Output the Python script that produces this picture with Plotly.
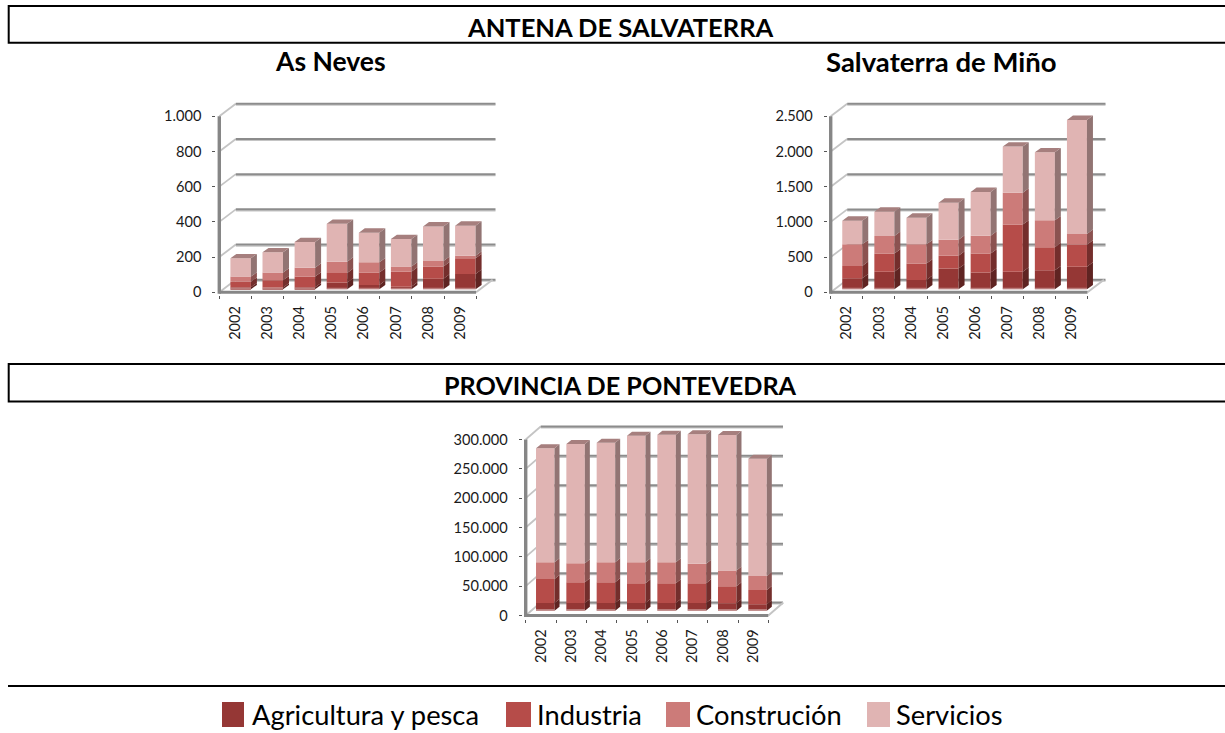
import plotly.graph_objects as go

WIDTH, HEIGHT = 1225, 733
YEARS = ["2002", "2003", "2004", "2005", "2006", "2007", "2008", "2009"]
SERIES = ["Agricultura y pesca", "Industria", "Construción", "Servicios"]
FACE = ["#953735", "#B64C49", "#CC7B79", "#E0B4B3"]
SIDE = ["#5F2422", "#742E2C", "#8B5250", "#927473"]
TOP = "#A67F7E"
GRID = "#8C8C8C"
GRID_LIGHT = "#C4C4C4"
AXIS = "#868686"
FONT = "Lato"
PAD = 3.0

NEVES_AGRI = [11, 10, 11, 38, 25, 15, 60, 87]
NEVES_IND = [32, 41, 61, 55, 70, 85, 70, 89]
NEVES_CON = [29, 44, 51, 64, 58, 29, 31, 15]
NEVES_SER = [104, 115, 145, 215, 168, 156, 196, 170]
NEVES_TICKS = [0, 200, 400, 600, 800, 1000]
NEVES_LABELS = ["0", "200", "400", "600", "800", "1.000"]

SALV_AGRI = [156, 251, 133, 294, 237, 251, 270, 322]
SALV_IND = [175, 256, 232, 184, 270, 668, 327, 312]
SALV_CON = [308, 251, 274, 227, 255, 454, 383, 152]
SALV_SER = [336, 345, 379, 526, 621, 654, 966, 1619]
SALV_TICKS = [0, 500, 1000, 1500, 2000, 2500]
SALV_LABELS = ["0", "500", "1.000", "1.500", "2.000", "2.500"]

PONT_AGRI = [13000, 13000, 13000, 13000, 13000, 13000, 12500, 11000]
PONT_IND = [41000, 35300, 35300, 34000, 34000, 34000, 29000, 24200]
PONT_CON = [28400, 32400, 34100, 35400, 35400, 33000, 27200, 23800]
PONT_SER = [194300, 203300, 204000, 215900, 217600, 220600, 230700, 200000]
PONT_TICKS = [0, 50000, 100000, 150000, 200000, 250000, 300000]
PONT_LABELS = ["0", "50.000", "100.000", "150.000", "200.000", "250.000", "300.000"]

CHARTS = [
    dict(series=[NEVES_AGRI, NEVES_IND, NEVES_CON, NEVES_SER], ticks=NEVES_TICKS, labels=NEVES_LABELS,
         x0=219.3, catw=32.1, y0=292.3, ytop=116.2, backx=16.5, backy=12.5, right=495.5,
         barw=20.5, shift=5.3, lift=3.0, sdx=6, sdy=4.4),
    dict(series=[SALV_AGRI, SALV_IND, SALV_CON, SALV_SER], ticks=SALV_TICKS, labels=SALV_LABELS,
         x0=830.7, catw=32.1, y0=292.3, ytop=116.3, backx=16.5, backy=12.5, right=1105.5,
         barw=20.0, shift=5.5, lift=3.0, sdx=6, sdy=4.4),
    dict(series=[PONT_AGRI, PONT_IND, PONT_CON, PONT_SER], ticks=PONT_TICKS, labels=PONT_LABELS,
         x0=525.7, catw=30.33, y0=615.5, ytop=439.5, backx=15, backy=13, right=783.0,
         barw=18.5, shift=4.4, lift=4.8, sdx=5, sdy=4.0),
]

fig = go.Figure()
shapes = []
annotations = []


def line(xref, yref, x0, y0, x1, y1, color, width):
    shapes.append(dict(type="line", xref=xref, yref=yref, x0=x0, y0=y0, x1=x1, y1=y1,
                       layer="below", line=dict(color=color, width=width)))


for i, c in enumerate(CHARTS, start=1):
    ax = "" if i == 1 else str(i)
    xa, ya = "x" + ax, "y" + ax
    vmax = c["ticks"][-1]
    ppu = (c["y0"] - c["ytop"]) / vmax
    top_px = c["ytop"] - c["backy"] - 2
    w_px = c["right"] - c["x0"] + 2
    ymax = (c["y0"] - top_px) / ppu
    n = len(YEARS)
    xmin = -0.5
    xmax = xmin + w_px / c["catw"]
    bdx = c["backx"] / c["catw"]
    bdy = c["backy"] / ppu
    front_end = xmin + n
    back_end = xmax - 2 / c["catw"]

    # walls and floor, behind everything
    for v in c["ticks"]:
        line(xa, ya, xmin + bdx, v + bdy - 1.3 / ppu, back_end, v + bdy - 1.3 / ppu, GRID_LIGHT, 1.5)
        line(xa, ya, xmin, v, xmin + bdx, v + bdy, GRID_LIGHT, 1.8)
        line(xa, ya, xmin + bdx, v + bdy, back_end, v + bdy, GRID, 2)
    line(xa, ya, front_end, 0, front_end + bdx, bdy, GRID_LIGHT, 2)
    line(xa, ya, xmin, 0, front_end, 0, AXIS, 3)
    line(xa, ya, xmin, -1.4 / ppu, xmin, vmax, AXIS, 3.4)

    cx = [j + c["shift"] / c["catw"] for j in range(n)]
    bw = c["barw"] / c["catw"]
    lift = c["lift"] / ppu
    sdx = c["sdx"] / c["catw"]
    sdy = c["sdy"] / ppu

    base = [lift] * n
    for s, vals in enumerate(c["series"]):
        fig.add_trace(go.Bar(x=cx, y=vals, base=list(base), width=bw, name=SERIES[s],
                             marker=dict(color=FACE[s], line=dict(width=0)),
                             xaxis=xa, yaxis=ya, showlegend=False))
        px_, py_ = [], []
        for j in range(n):
            r = cx[j] + bw / 2
            b0, b1 = base[j], base[j] + vals[j]
            px_ += [r, r + sdx, r + sdx, r, r, None]
            py_ += [b0, b0 + sdy, b1 + sdy, b1, b0, None]
        fig.add_trace(go.Scatter(x=px_, y=py_, mode="lines", fill="toself", fillcolor=SIDE[s],
                                 line=dict(width=0, color=SIDE[s]), xaxis=xa, yaxis=ya,
                                 showlegend=False, hoverinfo="skip"))
        base = [b + v for b, v in zip(base, vals)]
    px_, py_ = [], []
    for j in range(n):
        l, r = cx[j] - bw / 2, cx[j] + bw / 2
        px_ += [l, r, r + sdx, l + sdx, l, None]
        py_ += [base[j], base[j], base[j] + sdy, base[j] + sdy, base[j], None]
    fig.add_trace(go.Scatter(x=px_, y=py_, mode="lines", fill="toself", fillcolor=TOP,
                             line=dict(width=0, color=TOP), xaxis=xa, yaxis=ya,
                             showlegend=False, hoverinfo="skip"))
    # pale lower edge of each column
    strip = 1.6 / ppu
    px_, py_ = [], []
    for j in range(n):
        l, r = cx[j] - bw / 2, cx[j] + bw / 2
        px_ += [l, r, r, l, l, None]
        py_ += [lift, lift, lift + strip, lift + strip, lift, None]
    fig.add_trace(go.Scatter(x=px_, y=py_, mode="lines", fill="toself", fillcolor="rgba(255,255,255,0.35)",
                             line=dict(width=0, color="rgba(255,255,255,0)"), xaxis=xa, yaxis=ya,
                             showlegend=False, hoverinfo="skip"))

    fig.layout["xaxis" + ax] = dict(
        domain=[(c["x0"] - PAD) / WIDTH, (c["x0"] + w_px) / WIDTH],
        range=[xmin - PAD / c["catw"], xmax], anchor=ya, automargin=False,
        showgrid=False, zeroline=False, showline=False,
        tickmode="array", tickvals=list(range(n)), ticktext=YEARS, tickangle=-90,
        ticks="", ticklabelstandoff=7, tickfont=dict(family=FONT, size=14.5, color="#1a1a1a"),
        minor=dict(tickmode="array", tickvals=[j - 0.5 for j in range(n + 1)], ticks="outside",
                   ticklen=3, tickwidth=1, tickcolor="#555555", showgrid=False),
    )
    fig.layout["yaxis" + ax] = dict(
        domain=[1 - (c["y0"] + PAD) / HEIGHT, 1 - top_px / HEIGHT],
        range=[-PAD / ppu, ymax], anchor=xa, automargin=False,
        showgrid=False, zeroline=False, showline=False,
        tickmode="array", tickvals=c["ticks"], ticktext=c["labels"],
        ticks="outside", ticklen=3, tickwidth=1, tickcolor="#555555", ticklabelstandoff=8,
        tickfont=dict(family=FONT, size=14.6, color="#1a1a1a"),
    )


def rect(x0, y0, x1, y1, fill=None, lw=0, lc="black"):
    shapes.append(dict(type="rect", xref="paper", yref="paper", x0=x0 / WIDTH, x1=x1 / WIDTH,
                       y0=1 - y0 / HEIGHT, y1=1 - y1 / HEIGHT, fillcolor=fill,
                       line=dict(width=lw, color=lc), layer="above"))


def text(s, x, y, size, bold=False, anchor="center"):
    annotations.append(dict(text="<b>%s</b>" % s if bold else s, x=x / WIDTH, y=1 - y / HEIGHT,
                            xref="paper", yref="paper", showarrow=False, xanchor=anchor, yanchor="middle",
                            font=dict(family=FONT, size=size, color="#000000")))


rect(8.7, 6, 1240, 42.8, lw=2)
rect(8.7, 364, 1240, 401.5, lw=2)
shapes.append(dict(type="line", xref="paper", yref="paper", x0=8 / WIDTH, x1=1, y0=1 - 686 / HEIGHT,
                   y1=1 - 686 / HEIGHT, line=dict(color="black", width=2)))
text("ANTENA DE SALVATERRA", 620.5, 27, 25.5, True)
text("PROVINCIA DE PONTEVEDRA", 620, 385, 25.2, True)
text("As Neves", 330, 61, 26.5, True)
text("Salvaterra de Miño", 941, 61, 27.5, True)

LEGEND_SWATCH = [(222, 244), (506, 531), (666, 690), (867, 890)]
LEGEND_TEXT = [250, 535, 694, 894]
for k in range(4):
    rect(LEGEND_SWATCH[k][0], 702, LEGEND_SWATCH[k][1], 727, fill=FACE[k])
    text(SERIES[k], LEGEND_TEXT[k], 714, 27.3, False, "left")

fig.update_layout(width=WIDTH, height=HEIGHT, margin=dict(l=0, r=0, t=0, b=0, pad=0, autoexpand=False),
                  paper_bgcolor="white",
                  plot_bgcolor="rgba(0,0,0,0)", barmode="overlay", shapes=shapes, annotations=annotations,
                  showlegend=False)

fig.write_html("out.html", config=dict(displayModeBar=False),
               post_script="document.body.style.margin='0';document.documentElement.style.overflow='hidden';")
